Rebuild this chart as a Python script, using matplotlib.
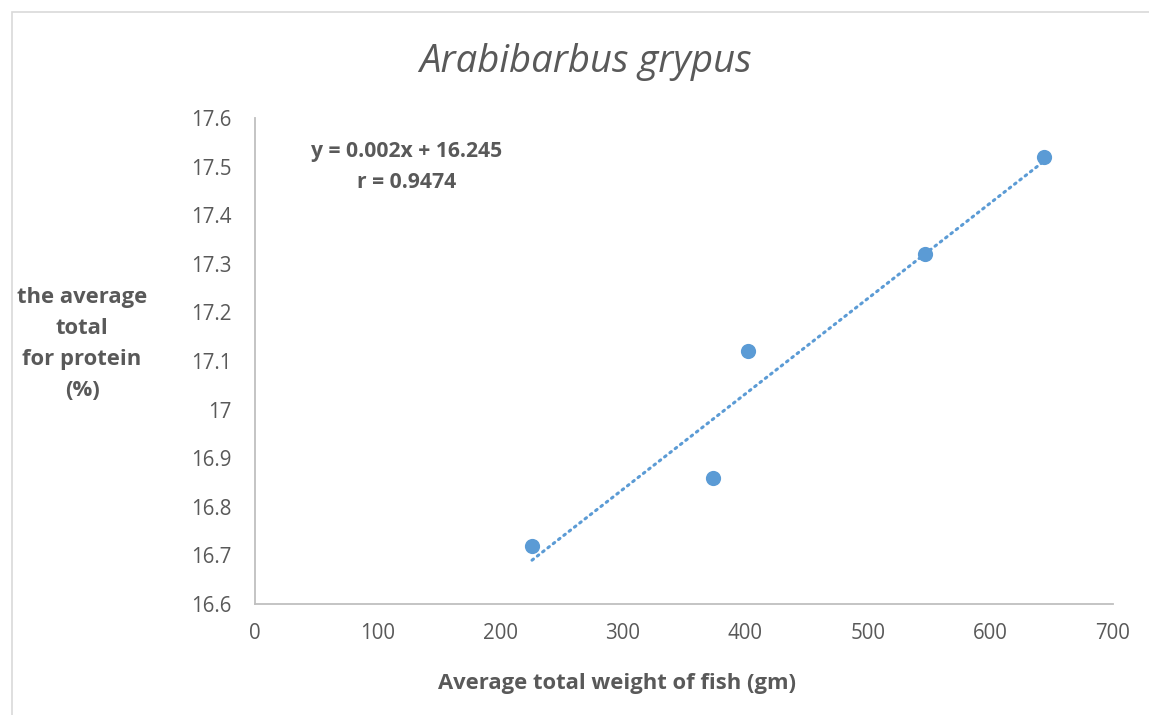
import matplotlib.pyplot as plt
import numpy as np
from matplotlib.patches import Rectangle

plt.rcParams['font.family'] = ['Open Sans', 'DejaVu Sans']

weight = [226, 374, 402, 547, 644]
protein = [16.72, 16.86, 17.12, 17.32, 17.52]

x_ticks = [0, 100, 200, 300, 400, 500, 600, 700]
y_ticks = [16.6, 16.7, 16.8, 16.9, 17, 17.1, 17.2, 17.3, 17.4, 17.5, 17.6]
y_tick_labels = ['16.6', '16.7', '16.8', '16.9', '17', '17.1', '17.2', '17.3', '17.4', '17.5', '17.6']

grey = '#595959'
blue = '#5b9bd5'

fig = plt.figure(figsize=(11.49, 7.15), dpi=100)
fig.patches.append(Rectangle((12 / 1149, -0.01), 1.0, (715 - 12) / 715 + 0.01,
                             transform=fig.transFigure, fill=False,
                             edgecolor='#d9d9d9', linewidth=1.2))
ax = fig.add_axes([255 / 1149, 111 / 715, 858 / 1149, 486 / 715])

# trendline (least squares)
coef = np.polyfit(weight, protein, 1)
xs = np.array([min(weight), max(weight)])
ax.plot(xs, np.polyval(coef, xs), color=blue, linestyle=(0, (0.6, 1.6)),
        linewidth=2.2, dash_capstyle='round', zorder=2)
ax.scatter(weight, protein, s=120, color=blue, zorder=3, linewidths=0)

ax.set_xlim(0, 700)
ax.set_ylim(16.6, 17.6)
ax.set_xticks(x_ticks)
ax.set_yticks(y_ticks)
ax.set_yticklabels(y_tick_labels)
ax.tick_params(length=0, labelsize=14.8, labelcolor=grey)
ax.tick_params(axis='y', pad=17)
ax.tick_params(axis='x', pad=14)
for s in ['top', 'right']:
    ax.spines[s].set_visible(False)
for s in ['left', 'bottom']:
    ax.spines[s].set_color('#bfbfbf')
    ax.spines[s].set_linewidth(1.3)

fig.text(585 / 1149, 1 - 62 / 715, 'Arabibarbus grypus', fontsize=27.5, style='italic',
         color=grey, ha='center', va='center')
fig.text(617 / 1149, 1 - 684 / 715, 'Average total weight of fish (gm)', fontsize=15.8,
         fontweight='bold', color=grey, ha='center', va='center')
fig.text(82 / 1149, 1 - 344 / 715, 'the average\ntotal\nfor protein\n(%)', fontsize=15.8,
         fontweight='bold', color=grey, ha='center', va='center', linespacing=1.63)
fig.text(407 / 1149, 1 - 152 / 715, 'y = 0.002x + 16.245', fontsize=15.2,
         fontweight='bold', color=grey, ha='center', va='center')
fig.text(407 / 1149, 1 - 182 / 715, 'r = 0.9474', fontsize=15.2,
         fontweight='bold', color=grey, ha='center', va='center')

fig.savefig('out.png', dpi=100)
